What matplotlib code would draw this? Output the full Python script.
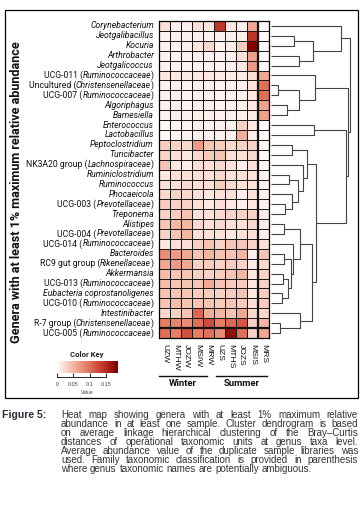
import numpy as np
import matplotlib
matplotlib.use("Agg")
import matplotlib.pyplot as plt
from matplotlib import transforms
from matplotlib.colors import LinearSegmentedColormap
from matplotlib.patches import Rectangle

W, H = 363, 517
DPI = 100

samples = ["UZW", "MTHW", "JOZW", "MSIW", "MRW", "UZS", "MTHS", "JOZS", "MSIS", "MRS"]
seasons = ["Winter", "Summer"]

genera = ["Corynebacterium", "Jeotgalibacillus", "Kocuria", "Arthrobacter", "Jeotgalicoccus",
          "UCG-011", "Uncultured", "UCG-007", "Algoriphagus", "Barnesiella", "Enterococcus",
          "Lactobacillus", "Peptoclostridium", "Turicibacter", "NK3A20 group", "Ruminiclostridium",
          "Ruminococcus", "Phocaeicola", "UCG-003", "Treponema", "Alistipes", "UCG-004", "UCG-014",
          "Bacteroides", "RC9 gut group", "Akkermansia", "UCG-013", "Eubacteria coprostanoligenes",
          "UCG-010", "Intestinibacter", "R-7 group", "UCG-005"]
families = [None, None, None, None, None,
            "Ruminococcaceae", "Christensenellaceae", "Ruminococcaceae", None, None, None,
            None, None, None, "Lachnospiraceae", None,
            None, None, "Prevotellaceae", None, None, "Prevotellaceae", "Ruminococcaceae",
            None, "Rikenellaceae", None, "Ruminococcaceae", None,
            "Ruminococcaceae", None, "Christensenellaceae", "Ruminococcaceae"]

# average relative abundance, rows = genera, columns = samples
abundance = np.array([
    [0.020, 0.010, 0.010, 0.020, 0.015, 0.140, 0.015, 0.010, 0.060, 0.005],
    [0.008, 0.008, 0.008, 0.010, 0.008, 0.008, 0.010, 0.010, 0.140, 0.004],
    [0.008, 0.008, 0.010, 0.015, 0.025, 0.008, 0.012, 0.035, 0.180, 0.004],
    [0.008, 0.008, 0.008, 0.010, 0.008, 0.008, 0.010, 0.020, 0.065, 0.004],
    [0.008, 0.008, 0.008, 0.008, 0.008, 0.008, 0.010, 0.015, 0.070, 0.004],
    [0.015, 0.015, 0.012, 0.015, 0.015, 0.012, 0.012, 0.012, 0.020, 0.060],
    [0.010, 0.010, 0.008, 0.010, 0.010, 0.008, 0.010, 0.010, 0.020, 0.100],
    [0.010, 0.010, 0.008, 0.010, 0.010, 0.008, 0.010, 0.010, 0.015, 0.100],
    [0.010, 0.010, 0.008, 0.010, 0.010, 0.008, 0.010, 0.010, 0.015, 0.065],
    [0.008, 0.010, 0.008, 0.010, 0.010, 0.008, 0.010, 0.010, 0.012, 0.065],
    [0.004, 0.006, 0.008, 0.010, 0.008, 0.010, 0.010, 0.030, 0.015, 0.003],
    [0.005, 0.006, 0.008, 0.010, 0.008, 0.010, 0.010, 0.055, 0.012, 0.003],
    [0.035, 0.030, 0.025, 0.070, 0.040, 0.035, 0.025, 0.030, 0.030, 0.005],
    [0.030, 0.020, 0.015, 0.025, 0.035, 0.040, 0.020, 0.020, 0.025, 0.005],
    [0.040, 0.015, 0.010, 0.020, 0.020, 0.025, 0.020, 0.010, 0.020, 0.005],
    [0.015, 0.020, 0.020, 0.020, 0.020, 0.025, 0.020, 0.020, 0.020, 0.008],
    [0.020, 0.020, 0.025, 0.020, 0.020, 0.035, 0.025, 0.020, 0.020, 0.008],
    [0.025, 0.030, 0.025, 0.020, 0.015, 0.020, 0.020, 0.010, 0.020, 0.008],
    [0.035, 0.030, 0.030, 0.020, 0.015, 0.020, 0.015, 0.010, 0.015, 0.008],
    [0.030, 0.035, 0.040, 0.020, 0.020, 0.025, 0.030, 0.030, 0.030, 0.012],
    [0.040, 0.050, 0.050, 0.025, 0.020, 0.025, 0.020, 0.020, 0.025, 0.012],
    [0.030, 0.040, 0.050, 0.020, 0.020, 0.020, 0.015, 0.020, 0.020, 0.010],
    [0.015, 0.020, 0.020, 0.030, 0.040, 0.030, 0.040, 0.040, 0.030, 0.020],
    [0.080, 0.070, 0.060, 0.040, 0.050, 0.040, 0.040, 0.050, 0.010, 0.040],
    [0.060, 0.070, 0.060, 0.030, 0.035, 0.030, 0.035, 0.030, 0.012, 0.025],
    [0.045, 0.040, 0.040, 0.030, 0.030, 0.035, 0.040, 0.050, 0.015, 0.030],
    [0.045, 0.040, 0.040, 0.040, 0.060, 0.040, 0.035, 0.035, 0.015, 0.030],
    [0.040, 0.040, 0.040, 0.035, 0.035, 0.030, 0.035, 0.040, 0.015, 0.035],
    [0.040, 0.045, 0.040, 0.040, 0.040, 0.035, 0.040, 0.035, 0.020, 0.035],
    [0.025, 0.030, 0.040, 0.105, 0.055, 0.050, 0.040, 0.060, 0.025, 0.025],
    [0.090, 0.085, 0.080, 0.100, 0.125, 0.090, 0.105, 0.115, 0.030, 0.050],
    [0.100, 0.090, 0.120, 0.090, 0.100, 0.080, 0.170, 0.100, 0.030, 0.060],
])

# row dendrogram as merges (left, right, height); node ids after the leaves count up
merges = [
    (1, 2, 0.28), (3, 4, 0.34), (32, 33, 0.51), (0, 34, 0.84),
    (6, 7, 0.08), (8, 9, 0.19), (36, 37, 0.34), (5, 38, 0.53),
    (10, 11, 0.52),
    (12, 13, 0.25), (15, 16, 0.22), (18, 19, 0.17), (17, 43, 0.25),
    (42, 44, 0.33), (14, 45, 0.39), (41, 46, 0.43),
    (20, 21, 0.16), (23, 24, 0.16), (25, 26, 0.14), (27, 28, 0.13),
    (50, 51, 0.20), (49, 52, 0.24), (22, 53, 0.27), (48, 54, 0.35),
    (30, 31, 0.11), (29, 56, 0.35), (55, 57, 0.49), (47, 58, 0.54),
    (40, 59, 0.90), (39, 60, 0.93), (35, 61, 0.95),
]

key_ticks = [0, 0.05, 0.1, 0.15]
vmax = 0.185

caption_lines = [
    "Heat map showing genera with at least 1% maximum relative",
    "abundance in at least one sample. Cluster dendrogram is based",
    "on average linkage hierarchical clustering of the Bray\u2013Curtis",
    "distances of operational taxonomic units at genus taxa level.",
    "Average abundance value of the duplicate sample libraries was",
    "used. Family taxonomic classification is provided in parenthesis",
    "where genus taxonomic names are potentially ambiguous.",
]

plt.rcParams["font.family"] = ["Roboto", "DejaVu Sans"]
NARROW = ["Liberation Sans Narrow", "Liberation Sans", "DejaVu Sans"]


def fx(px):
    return px / W


def fy(py):
    return 1 - py / H


fig = plt.figure(figsize=(W / DPI, H / DPI), dpi=DPI)
renderer = fig.canvas.get_renderer()

fig.patches.append(Rectangle((fx(5), fy(398)), fx(358) - fx(5), (398 - 9.5) / H,
                             transform=fig.transFigure, fill=False, ec="black", lw=0.9))

# heat map
n_rows, n_cols = abundance.shape
cmap = LinearSegmentedColormap.from_list(
    "key", [(0.0, "#ffffff"), (0.1, "#fbe1d9"), (0.25, "#f4bba9"), (0.5, "#e37b62"),
            (0.75, "#c2372a"), (1.0, "#7b0000")])
ax = fig.add_axes([fx(159), fy(338), fx(269) - fx(159), (338 - 21) / H])
ax.pcolormesh(abundance, cmap=cmap, vmin=0, vmax=vmax, edgecolors="#1a1a1a", linewidth=0.6)
ax.set_xlim(0, n_cols)
ax.set_ylim(n_rows, 0)
ax.axvline(n_cols - 1, color="#111111", lw=1.6)
ax.axhline(n_rows - 1, color="#111111", lw=1.6)
for s in ax.spines.values():
    s.set_linewidth(0.9)
ax.set_yticks([])
ax.set_xticks(np.arange(n_cols) + 0.5)
ax.set_xticklabels(samples, rotation=270, ha="center", va="top", family=NARROW,
                   fontsize=6.1, color="#111111")
ax.tick_params(axis="x", length=0, pad=4)

# season groups under the sample names
trans_s = transforms.blended_transform_factory(ax.transData, fig.transFigure)
season_spans = [(0.0, 4.4), (5.2, 9.8)]
for name, (a, b) in zip(seasons, season_spans):
    ax.plot([a, b], [fy(375.5), fy(375.5)], color="#111111", lw=1.0,
            transform=trans_s, clip_on=False)
    ax.text((a + b) / 2, fy(384), name, transform=trans_s, ha="center", va="center",
            fontsize=6.8, fontweight="bold", color="#111111")

# row labels, upright genus text with italic family names
trans_r = transforms.blended_transform_factory(fig.transFigure, ax.transData)
for i, (g, fam) in enumerate(zip(genera, families)):
    if fam is None:
        runs = [(g, "italic")]
    else:
        runs = [(g + " (", "normal"), (fam, "italic"), (")", "normal")]
    x = 154.0
    for txt, style in reversed(runs):
        t = ax.text(fx(x), i + 0.5, txt, transform=trans_r, ha="right", va="center",
                    style=style, fontsize=6.25, color="#111111")
        x -= t.get_window_extent(renderer).width

fig.text(fx(17), fy(192), "Genera with at least 1% maximum relative abundance",
         rotation=90, ha="center", va="center", fontsize=9.1, fontweight="bold",
         color="#111111")

# row dendrogram
axd = fig.add_axes([fx(269), fy(338), fx(356) - fx(269), (338 - 21) / H])
axd.set_ylim(n_rows, 0)
axd.set_xlim(-2 / 83, 85 / 83)
axd.axis("off")
pos = {i: i + 0.5 for i in range(n_rows)}
hgt = {i: 0.0 for i in range(n_rows)}
for k, (a, b, h) in enumerate(merges):
    node = n_rows + k
    axd.plot([hgt[a], h, h, hgt[b]], [pos[a], pos[a], pos[b], pos[b]],
             color="#444444", lw=0.8, solid_capstyle="butt")
    pos[node] = (pos[a] + pos[b]) / 2
    hgt[node] = h

# colour key
fig.text(fx(87), fy(355), "Color Key", ha="center", va="center", fontsize=5.6,
         fontweight="bold", color="#222222")
axk = fig.add_axes([fx(57), fy(373), fx(118) - fx(57), 12 / H])
axk.imshow(np.linspace(0, vmax, 256)[None, :], cmap=cmap, vmin=0, vmax=vmax,
           aspect="auto", extent=[0, vmax, 0, 1])
axk.set_xlim(0, vmax)
axk.set_yticks([])
for side in ["top", "left", "right"]:
    axk.spines[side].set_visible(False)
axk.spines["bottom"].set_position(("outward", 3))
axk.spines["bottom"].set_bounds(key_ticks[0], key_ticks[-1])
axk.spines["bottom"].set_linewidth(0.6)
axk.set_xticks(key_ticks)
axk.set_xticklabels([f"{v:g}" for v in key_ticks], fontsize=4, color="#444444",
                    family=NARROW)
axk.tick_params(axis="x", direction="in", length=3, width=0.6, pad=3.5)
fig.text(fx(87), fy(393), "Value", ha="center", va="center", fontsize=3.6,
         color="#444444", family=NARROW)

# caption, justified between the text margins
fig.text(fx(2), fy(415), "Figure 5:", ha="left", va="center", fontsize=7.6,
         fontweight="bold", color="#2d2d3a", family=NARROW)
cap_left, cap_right = 61, 358
cap_size = 7.0
probe_a = fig.text(0, 0, "x x", fontsize=cap_size, family=NARROW)
probe_b = fig.text(0, 0, "xx", fontsize=cap_size, family=NARROW)
space_w = probe_a.get_window_extent(renderer).width - probe_b.get_window_extent(renderer).width
probe_a.remove()
probe_b.remove()
for j, line in enumerate(caption_lines):
    y = fy(415 + 9.05 * j)
    words = line.split()
    texts = [fig.text(0, y, w, ha="left", va="center", fontsize=cap_size,
                      family=NARROW, color="#333333") for w in words]
    widths = [t.get_window_extent(renderer).width for t in texts]
    if j < len(caption_lines) - 1:
        gap = (cap_right - cap_left - sum(widths)) / (len(words) - 1)
    else:
        gap = space_w
    x = cap_left
    for t, w in zip(texts, widths):
        t.set_x(fx(x))
        x += w + gap

fig.savefig("out.png", dpi=DPI, facecolor="white")
